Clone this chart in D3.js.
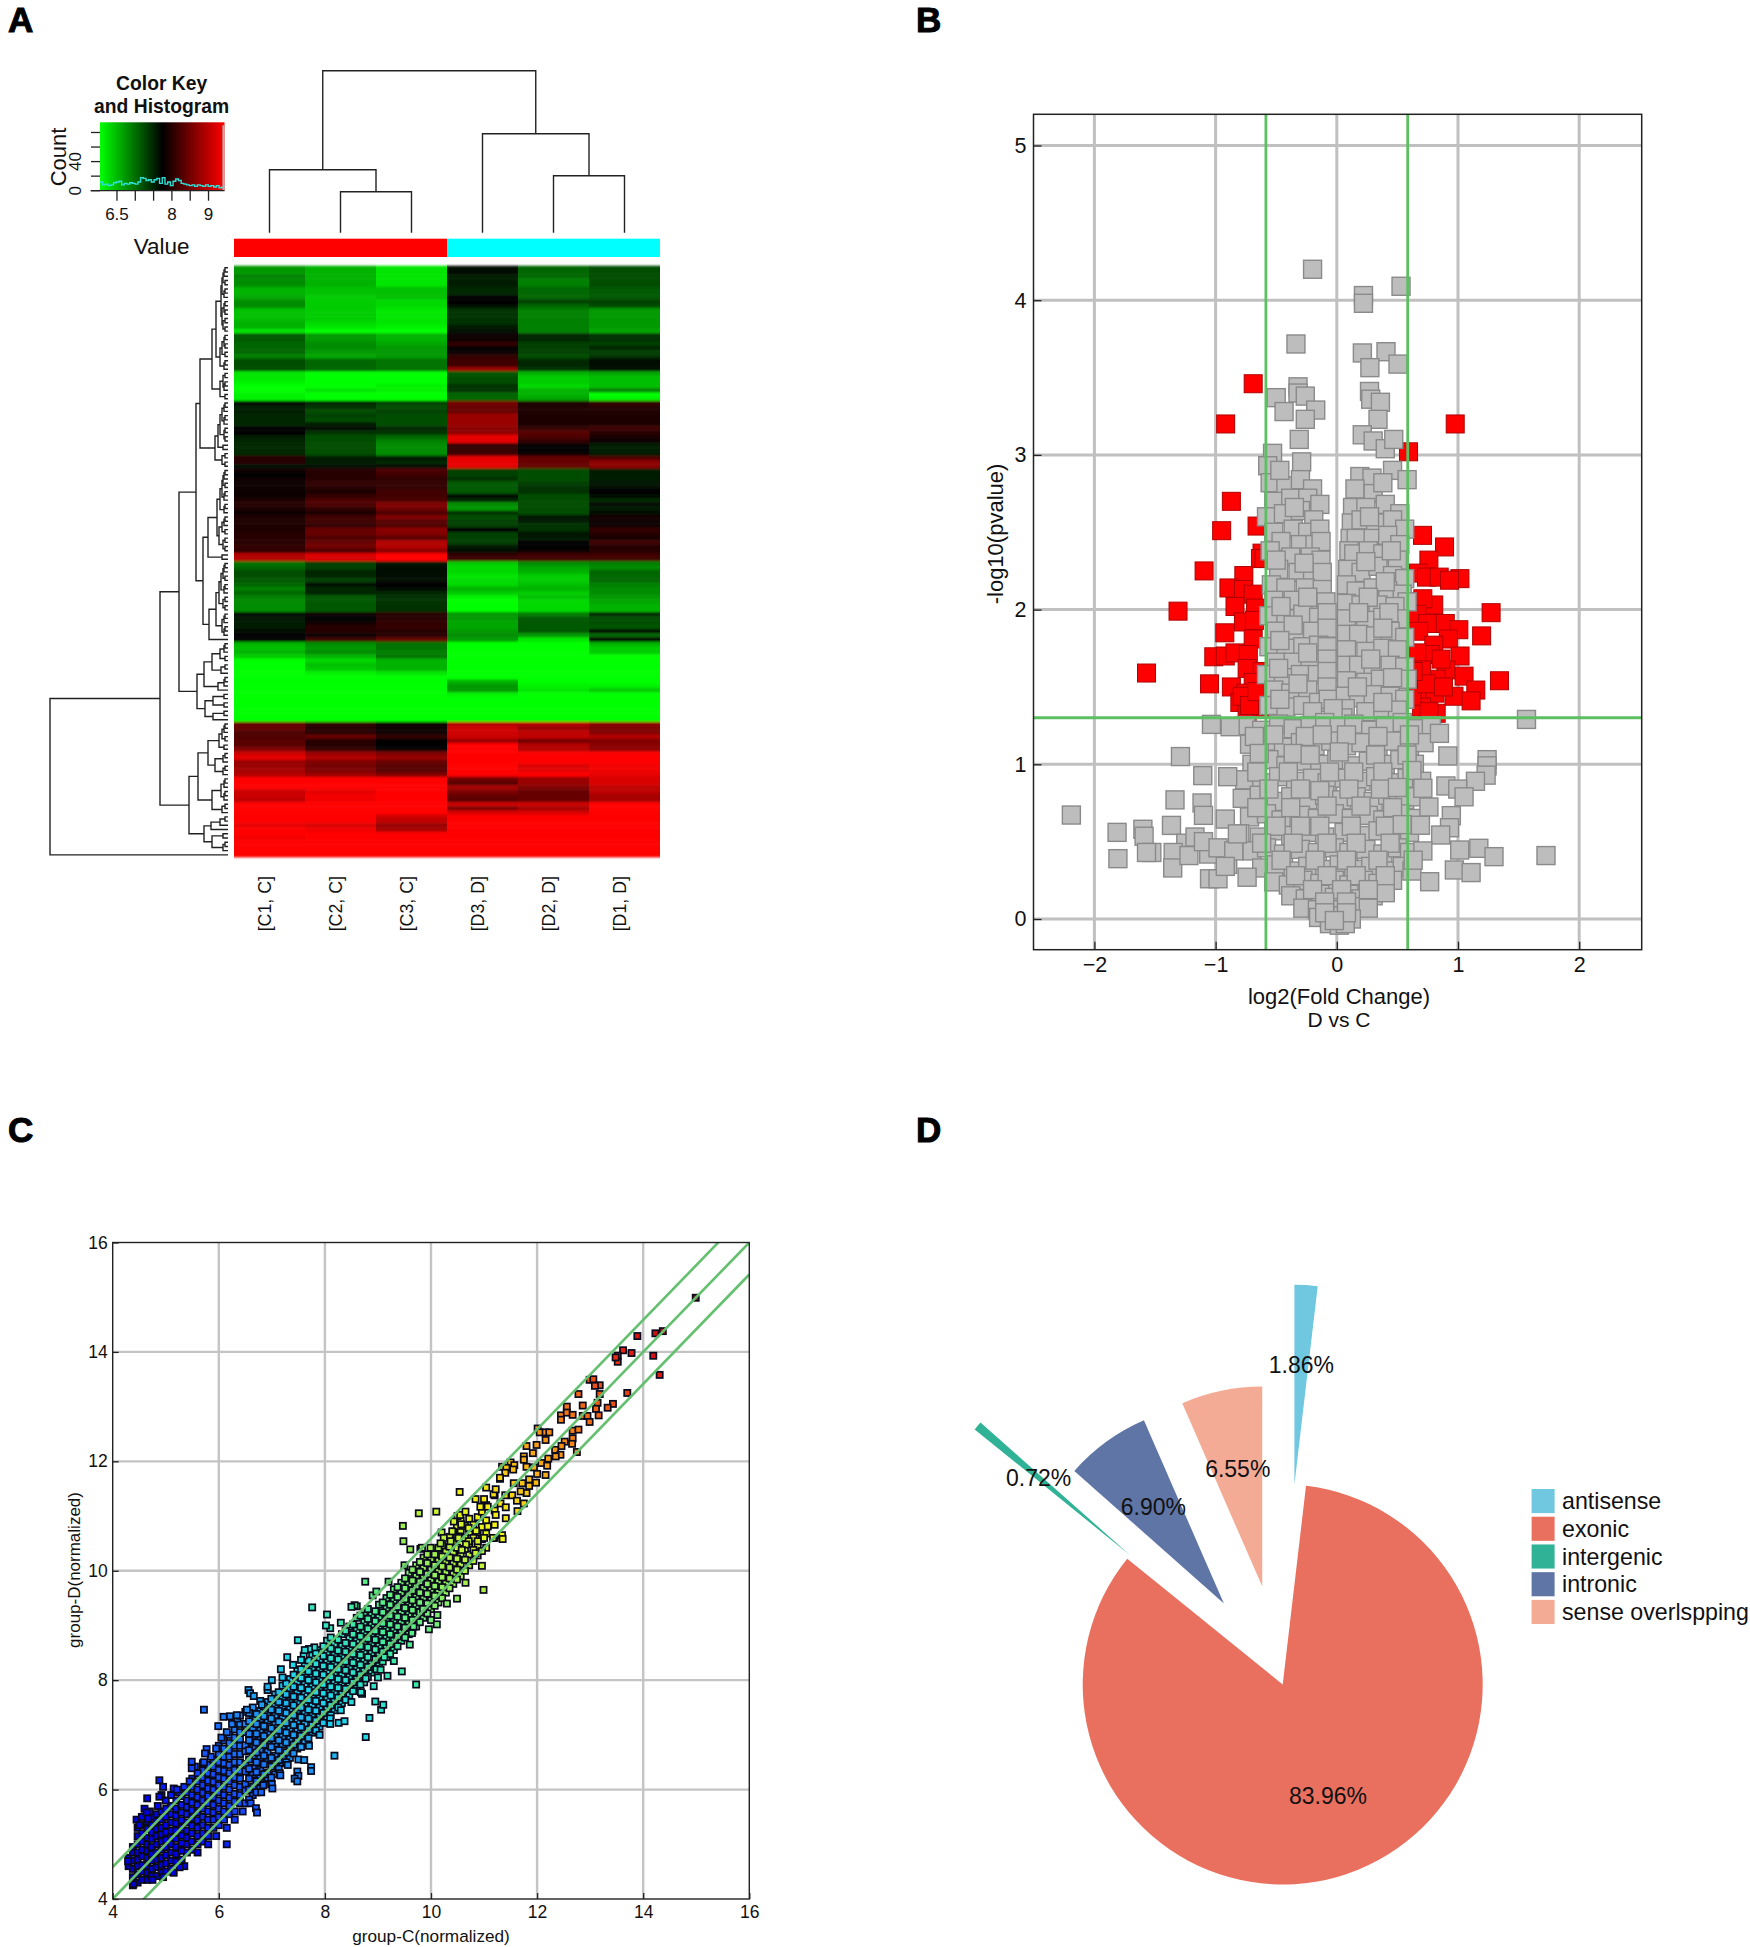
<!DOCTYPE html>
<html>
<head>
<meta charset="utf-8">
<script src="https://cdn.jsdelivr.net/npm/d3@7/dist/d3.min.js"></script>
<style>
body { margin: 0; background: #fff; }
text { font-family: "Liberation Sans", Arial, sans-serif; fill: #111; }
.domain { display: none; }
</style>
</head>
<body>
<svg id="fig" width="1750" height="1947"></svg>
<script>
// panel A
const sampleLabels = ["[C1, C]", "[C2, C]", "[C3, C]", "[D3, D]", "[D2, D]", "[D1, D]"]
const sampleGroups = ["C", "C", "C", "D", "D", "D"]
// one row per gene, columns in sampleLabels order, -10 full green .. 10 full red
const heatRows = [
[-6,-7,-9,-.5,-4,-3],[-6,-7,-9,-.5,-4,-3],[-5,-7,-9,-1,-4,-3],[-5.5,-7,-9,-1,-5,-3],[-5.5,-7,-9,-1,-5,-3],
[-7,-7.5,-7.5,-1.5,-4,-3.5],[-7,-7.5,-7.5,-1.5,-4,-3.5],[-6.5,-8,-7.5,0,-4,-3.5],[-5.5,-8,-8.5,0,-2.5,-2.5],[-5.5,-8,-8.5,-.3,-4,-3],
[-7.5,-8,-9,-2,-5,-6],[-7.5,-8,-9,-2,-5,-6],[-7.5,-8,-9,-2,-5,-6],[-7,-8.5,-9,-2,-5,-6],[-7,-9,-9.5,-1,-5,-6],[-9,-10,-10,-.3,-5,-6.5],
[-3.5,-6,-7,.3,-1.5,-2],[-3.5,-6,-7,.3,-1.5,-2],[-4,-5.5,-6.5,2,-2.5,-2.5],[-4,-5.5,-6,0,-2.5,-1.5],[-4,-6,-6,.3,-2.5,-2.5],
[-5,-6.5,-6,2,-3,-2],[-3,-4,-4.5,2.5,-1.5,-.5],[-3,-4,-4.5,2.5,-1.5,-.5],[-3,-4,-4.5,6,-2,-.5],
[-9,-10,-10,-3.5,-7,-6.5],[-9,-10,-10,-3,-8,-7.5],[-9.5,-10,-10,-3,-8,-7.5],[-10,-10,-9.5,-2,-8.5,-7.5],[-10,-9,-9.5,-2,-7,-5],[-9.5,-10,-10,-4,-7,-10],[-9.5,-10,-10,-4,-6.5,-9.5],
[-.5,-1.5,-2.5,4.5,1,2],[-1,-2,-3,4,1,1.5],[-1,-3,-2.5,4,1,1],[-1.5,-2.5,-3,6,1,1],[-1.5,-3,-3,6,1,1],[-1.5,-1,-3,6,1,1],
[0,-.5,-1.5,5.5,2,2.5],[0,-2,-2,5.5,3.5,1.5],[-1,-3,-4,9,3,1],[-1.5,-3,-5,9,2,.5],[-1.5,-3,-5.5,2,0,-1],[-1.5,-3,-5.5,2,0,-1],[-1.5,-3,-5.5,2.5,.3,-1],
[1.5,-1,-1,9,4,3],[1.5,-1,-1.5,9,4,5.5],[-.5,-.5,-.3,9,4,5.5],
[.5,1.5,3,-2.5,-3,-1],[0,1.5,2.5,-2.5,-3,-1],[.5,1.5,2,-2,-3,-1],[.5,2,2,-3.5,-2.5,-.7],[.5,1.5,2,-3.5,-2,-.3],[.5,1,2.5,-3.5,-2,0],
[.5,2,2.5,-.5,-3,-.5],[1,3,3,-1.5,-3,-1.5],[1.5,3,5,-5.5,-3,-.3],[1,2,4.5,-6,-3,-1],[.5,1,3,-2,-3,-.5],[1,2.5,5,-3,-.8,.8],
[1,2.5,3.5,-2.5,-1,.3],[1,2,3,-2.5,-2,.5],[1,4,5.5,0,-2,2],[1.5,4,5,-2.5,-.8,1.5],[1.5,3,3.5,-2.5,-1,.8],[1.5,4,7,-2.5,0,2.5],
[2,4.5,7,-1,0,1.5],[2,3,5.5,-.5,.3,1.5],[7,8.5,10,2,2.5,2.5],[7,8.5,10,2.5,2.5,2.5],
[-4.5,-2.5,-.7,-8,-5.5,-5],[-4,-2.5,-.5,-8.5,-6.5,-5.5],[-3,-1.5,-.3,-8.5,-7,-4],[-3,-1.5,-.3,-9,-8,-4],[-3.5,-2.5,-.3,-8.5,-8,-4],[-4,-.5,0,-8.5,-7.5,-5],
[-5,-1.5,-.3,-7,-7,-5.5],[-4,-1.5,-1.5,-8,-8,-5.5],[-5,-3.5,-2,-9.5,-7.5,-6],[-5.5,-3.5,-2,-10,-8.5,-6.5],[-5.5,-3.5,-2,-10,-8.5,-7],[-5.5,-3.5,-2,-10,-8.5,-7],
[-.5,.3,1.5,-6,-5,-1.5],[-.7,0,1.5,-6,-3.5,-3],[-1,.5,2,-6.5,-3.5,-3],[-1,1.5,2,-6.5,-3.5,-3.5],[-.5,1.5,1.5,-6,-3.5,-.5],[0,.5,1.5,-5.5,-6,-4],[0,2.5,4,-6,-9,0],
[-7,-5.5,-4.5,-10,-10,-7],[-7.5,-6,-4.5,-10,-10,-8],[-7,-5.5,-5,-10,-10,-8],[-8,-7,-4.5,-10,-10,-10],[-10,-8.5,-7,-10,-10,-10],[-10,-7.5,-7,-10,-10,-10],
[-10,-8,-7,-10,-10,-10],[-10,-9.5,-9,-10,-10,-10],[-10,-10,-10,-10,-10,-10],[-10,-10,-10,-7,-10,-10],[-10,-10,-10,-6,-9.5,-9.5],[-10,-10,-10,-6,-9,-8],[-10,-10,-10,-9.5,-10,-10],
[-10,-10,-10,-10,-10,-10],[-10,-10,-10,-10,-10,-10],[-10,-10,-10,-10,-10,-10],[-10,-10,-10,-10,-10,-10],[-10,-10,-10,-10,-10,-10],[-10,-10,-10,-10,-10,-10],
[4,2,.5,7,7,5.5],[4,1.5,.5,8,6,5],[3,1.5,.5,8,7.5,5],[3,4,2,8,7.5,7],[3.5,1.5,0,6,4.5,5],[3.5,1.5,0,10,7,5.5],[5,2,0,10,7,5.5],
[8,6,5,10,10,10],[9,7,6,10,10,10],[6,5,4,10,10,10],[6,4.5,3.5,10,8.5,9.5],[6.5,5,3.5,10,9,9.5],[7,6,5,10,10,9],
[10,10,10,4.5,6,8.5],[10,10,10,3.5,6,8.5],[10,10,10,6.5,5,7.5],[8,9,10,5,4,7.5],[8,9.5,10,4,4,6.5],[7.5,9.5,10,3.5,4,6.5],
[10,10,10,8,8,10],[10,10,10,5,6.5,10],[10,10,10,8.5,8.5,10],[10,10,8,10,10,10],[10,10,7.5,10,10,10],[9,8.5,6,10,10,10],[10,9.5,6.5,10,10,10],
[10,10,10,10,10,10],[9.5,10,10,10,10,10],[10,10,10,10,10,10],[10,10,10,10,10,10],[10,10,10,10,10,10],[10,10,10,10,10,10]
]
// clustering trees: [merge height, left, right], 0 is a leaf
const colTree = [162, [63, 0, [41, 0, 0]], [99, 0, [57, 0, 0]]]
const rb1 = [7, [6, [5, [4, [3,0,0], 0], [3,0,0]], [4, [3,0,0], 0]], [6, [4, [3,0,0], [3,0,0]], [5, [3,0,0], [3,0,0]]]]
const rb2 = [8, [6, [4, [3,0,0], [3,0,0]], [3,0,0]], [4, [3,0,0], 0]]
const rb3 = [8, [5, [3,0,0], [4, [3,0,0], 0]], [3,0,0]]
const rb4 = [13, [10, [8, [6, [4, [3,0,0], 0], [4, [3,0,0], 0]], [4, [3,0,0], [3,0,0]]], [5,0,0]], [6, [3,0,0], [3,0,0]]]
const rb5 = [20, [11, [8, [6, [5, [4, [3,0,0], 0], [3,0,0]], [4, [3,0,0], 0]], [4, [3,0,0], 0]], [9, [6, [4, [3,0,0], 0], [3,0,0]], [5, [3,0,0], [3,0,0]]]], [6,0,0]]
const rb6 = [19, [12, [9, [7, [5, [4, [3,0,0], 0], [3,0,0]], [4, [3,0,0], 0]], [5, [3,0,0], [3,0,0]]], [6, [4, [3,0,0], 0], [4, [3,0,0], 0]]], 0]
const rb8 = [31, [24, [16, [8, [4, [3,0,0], 0], [3,0,0]], [7, [3,0,0], 0]], [10, [4, [3,0,0], 0], 0]], [23, [15, [4,0,0], [4,0,0]], [15, [4,0,0], 0]]]
const rb9 = [20, [9, [6, [4, [3,0,0], 0], [3,0,0]], [4,0,0]], [13, [5, [3,0,0], 0], [5, [3,0,0], 0]]]
const rb11 = [16, [7, [4, [3,0,0], 0], [4, [3,0,0], 0]], [6, [3,0,0], 0]]
const rb12 = [24, [17, [8, [3,0,0], 0], 0], [16, [5,0,0], [5, [3,0,0], 0]]]
const rowTree = [178, [68,
  [49, [32, [28, [16, [12, rb1, rb2], rb3], rb4], [25, rb5, rb6]], rb8],
  [39, [30, rb9, rb11], rb12]], 0]
const keyTicks = [6.5, 7, 7.5, 8, 8.5, 9]
const keyTickLabels = [6.5, 8, 9]
const keyCountTicks = [0, 20, 40, 60, 80]
const keyCountLabels = [0, 40]
const histCounts = [12,8,9,7,8,11,12,13,8,10,9,11,10,9,12,18,17,14,15,12,15,17,10,18,9,12,7,13,16,14,10,9,8,7,8,6,8,7,6,8,6,7,5,7,4,5]
const histLastCount = 90

// panel B
const volcanoXTicks = [-2, -1, 0, 1, 2]
const volcanoYTicks = [0, 1, 2, 3, 4, 5]
const volcanoFoldCut = 0.585
const volcanoPCut = 1.301
const volcanoRed = [
[-1.57,1.59],[-1.31,1.99],[-1.095,2.25],[-.69,3.46],[-.917,3.2],[.977,3.2],[.592,3.02],[-.87,2.7],[-.95,2.51],[-.658,2.54],
[.707,2.48],[.889,2.405],[-.617,2.365],[-.63,2.33],[-.6,2.33],[.76,2.32],[.674,2.236],[.74,2.21],[.845,2.21],[1.016,2.2],[.93,2.19],
[-.767,2.22],[-.89,2.14],[-.77,2.13],[-.69,2.1],[-.84,2.02],[-.67,2.01],[-.77,1.92],[-.68,1.93],[-.924,1.85],[-.69,1.81],
[-1.015,1.695],[-.92,1.7],[-.84,1.72],[-.73,1.71],[-.74,1.62],[-.615,1.6],[-1.05,1.52],[-.87,1.5],[-.69,1.53],[-.75,1.46],[-.68,1.42],
[-.8,1.4],[-.74,1.34],[-.62,1.37],[-.78,1.44],[-.72,1.38],[-.66,1.47],
[.674,2.05],[.8,2.03],[.71,2.07],[.66,1.97],[.75,1.91],[.895,1.91],[1.007,1.87],[1.273,1.98],[1.195,1.83],[.676,1.86],[.92,1.81],
[.8,1.77],[.77,1.71],[1.017,1.7],[.66,1.72],[.9,1.61],[1.05,1.57],[.82,1.55],[.7,1.61],[1.342,1.54],[1.147,1.48],[.59,1.52],[.967,1.44],
[1.108,1.41],[.66,1.44],[.81,1.46],[.7,1.37],[.82,1.33],[.62,1.44],[.74,1.52],[.88,1.5],[.76,1.34],[.63,1.6],[.86,1.68]
]
const volcanoGray = [
// top of the plume
[-.2,4.2],[.22,4.03],[.22,3.98],[.53,4.09],[-.337,3.717],[.211,3.659],[.406,3.667],[.273,3.564],[.505,3.587],[-.32,3.44],[-.32,3.4],[-.26,3.38],
[-.5,3.37],[-.435,3.28],[-.174,3.29],[-.26,3.23],[.27,3.41],[.28,3.36],[.36,3.34],[.34,3.23],[.21,3.13],[.3,3.09],[.4,3.04],[.47,3.1],[-.31,3.1],
[-.53,3.01],[-.57,2.93],[-.29,2.955],[.19,2.86],[.46,2.9],[.58,2.84],[.29,2.85],
// left lobe
[-.55,2.82],[-.42,2.8],[-.3,2.84],[-.2,2.78],[-.52,2.7],[-.38,2.72],[-.24,2.72],[-.14,2.68],[-.58,2.6],[-.44,2.62],[-.3,2.64],[-.19,2.58],
[-.52,2.5],[-.36,2.52],[-.24,2.5],[-.14,2.52],[-.46,2.44],[-.3,2.42],[-.18,2.42],[-.13,2.44],[-.55,2.38],[-.38,2.34],[-.22,2.34],[-.13,2.32],
[-.48,2.26],[-.32,2.24],[-.2,2.22],[-.12,2.24],[-.54,2.16],[-.42,2.14],[-.26,2.14],[-.12,2.13],[-.52,2.06],[-.36,2.06],[-.2,2.03],[-.09,2.05],
[-.56,1.96],[-.42,1.94],[-.28,1.97],[-.15,1.95],[-.08,1.98],[-.5,1.86],[-.34,1.84],[-.2,1.86],[-.08,1.88],[-.56,1.76],[-.42,1.75],[-.28,1.76],
[-.15,1.77],[-.08,1.76],[-.5,1.66],[-.36,1.66],[-.22,1.66],[-.08,1.68],[-.58,1.58],[-.44,1.56],[-.3,1.58],[-.16,1.58],[-.08,1.6],[-.52,1.48],
[-.38,1.46],[-.24,1.48],[-.08,1.5],[-.56,1.38],[-.42,1.37],[-.28,1.38],[-.15,1.4],[-.07,1.42],
[-.47,2.9],[-.35,2.66],[-.5,2.32],[-.27,2.3],[-.46,2.02],[-.24,2.08],[-.36,1.9],[-.47,1.8],[-.24,1.72],[-.48,1.62],[-.32,1.52],[-.47,1.42],[-.2,1.34],
// right lobe
[.15,2.78],[.3,2.75],[.38,2.82],[.13,2.66],[.24,2.66],[.4,2.68],[.52,2.62],[.12,2.56],[.2,2.58],[.32,2.56],[.46,2.58],[.56,2.52],[.11,2.46],
[.16,2.46],[.3,2.46],[.42,2.48],[.52,2.42],[.1,2.38],[.14,2.36],[.26,2.38],[.38,2.36],[.5,2.32],[.09,2.26],[.2,2.24],[.34,2.28],[.46,2.22],
[.56,2.2],[.08,2.16],[.16,2.12],[.3,2.14],[.42,2.12],[.54,2.1],[.58,2.05],[.08,2.04],[.2,2.03],[.34,2.03],[.48,2.02],[.08,1.94],[.24,1.93],
[.38,1.95],[.52,1.94],[.08,1.84],[.18,1.84],[.32,1.83],[.44,1.86],[.56,1.82],[.08,1.74],[.24,1.73],[.38,1.75],[.5,1.74],[.08,1.64],[.18,1.64],
[.3,1.62],[.44,1.64],[.56,1.63],[.08,1.54],[.24,1.53],[.36,1.55],[.5,1.52],[.58,1.55],[.07,1.44],[.18,1.43],[.3,1.45],[.44,1.44],[.56,1.42],
[.07,1.36],[.24,1.34],[.38,1.36],[.5,1.35],
[.27,2.6],[.45,2.38],[.24,2.31],[.4,2.18],[.26,2.08],[.43,1.98],[.18,1.98],[.38,1.88],[.28,1.68],[.46,1.56],[.17,1.5],[.38,1.4],[.05,1.3],[-.03,1.36],
// lower body
[-.75,1.25],[-.62,1.22],[-.48,1.26],[-.36,1.23],[-.22,1.25],[-.1,1.27],[.02,1.24],[.14,1.26],[.28,1.22],[.4,1.25],[.54,1.27],[.66,1.23],[.78,1.25],
[-.72,1.13],[-.58,1.15],[-.44,1.11],[-.3,1.14],[-.18,1.12],[-.05,1.15],[.08,1.12],[.2,1.14],[.34,1.11],[.46,1.15],[.6,1.12],[.72,1.14],
[-.7,1.0],[-.56,1.03],[-.42,.99],[-.28,1.02],[-.14,1.0],[0,1.03],[.12,.99],[.26,1.02],[.4,1.0],[.52,1.03],[.64,1.0],
[-.76,.9],[-.62,.88],[-.48,.92],[-.34,.89],[-.2,.91],[-.08,.88],[.06,.91],[.2,.89],[.32,.92],[.46,.88],[.58,.91],[.7,.89],
[-.78,.78],[-.64,.8],[-.5,.76],[-.38,.79],[-.24,.77],[-.1,.8],[.04,.77],[.16,.79],[.3,.76],[.42,.8],[.56,.77],[.66,.79],
[-.72,.66],[-.58,.68],[-.46,.64],[-.3,.67],[-.16,.65],[-.02,.68],[.12,.65],[.26,.67],[.38,.64],[.52,.68],[.66,.65],
[-.8,.55],[-.64,.53],[-.52,.57],[-.38,.54],[-.24,.56],[-.1,.53],[.06,.56],[.2,.54],[.34,.57],[.46,.53],[.6,.56],
[-.7,.44],[-.58,.46],[-.44,.42],[-.3,.45],[-.16,.43],[-.02,.46],[.1,.43],[.24,.45],[.38,.42],[.5,.46],[.6,.43],
[-.62,.33],[-.5,.35],[-.36,.31],[-.24,.34],[-.1,.32],[.02,.35],[.14,.32],[.28,.34],[.4,.31],[.54,.34],[.62,.31],
[-.52,.24],[-.4,.22],[-.28,.25],[-.14,.23],[-.02,.25],[.1,.22],[.22,.25],[.34,.23],[.46,.25],
[-.38,.15],[-.26,.13],[-.14,.16],[-.02,.14],[.1,.16],[.2,.13],[.3,.15],[.4,.17],
[-.28,.07],[-.16,.06],[-.06,.08],[.04,.06],[.14,.08],[.26,.07],[-.15,.01],[-.06,0],[.03,.02],[.12,0],[-.06,-.03],[.02,-.04],[.07,-.03],
// second layer of the body
[-.68,1.18],[-.52,1.19],[-.26,1.18],[-.12,1.19],[.08,1.19],[.34,1.18],[.6,1.19],[-.64,1.07],[-.36,1.07],[-.22,1.06],[.02,1.08],[.32,1.06],[.58,1.06],
[-.66,.95],[-.4,.95],[-.06,.95],[.14,.95],[.38,.95],[.62,.96],[-.56,.84],[-.3,.84],[-.14,.83],[.1,.84],[.36,.84],[.5,.85],[-.66,.72],[-.38,.72],[-.08,.73],
[.2,.73],[.46,.72],[-.5,.6],[-.3,.6],[-.14,.6],[.12,.6],[.4,.6],[.54,.61],[-.62,.49],[-.36,.49],[-.08,.49],[.16,.49],[.44,.49],[-.46,.38],[-.18,.38],
[.08,.38],[.34,.38],[-.34,.28],[-.08,.28],[.16,.28],[.4,.28],[-.2,.19],[.04,.19],[.26,.19],[-.1,.11],[.08,.11],[-.1,.04],[.08,.04],[-.02,-.01],
// scattered outliers
[-1.034,1.258],[-.88,1.243],[1.565,1.29],[.847,1.2],[-1.29,1.05],[-1.106,.927],[-.9,.92],[.916,1.054],[1.24,1.03],[1.24,.99],[1.232,.93],[1.144,.89],
[.9,.86],[.998,.84],[1.05,.79],[.71,.845],[-1.335,.77],[-1.112,.75],[-1.1,.67],[-2.19,.672],[-1.813,.56],[-1.806,.39],[-1.6,.58],[-1.59,.535],[-1.526,.43],
[-1.57,.43],[-1.364,.605],[-1.246,.49],[-1.17,.53],[-1.35,.43],[-1.354,.33],[-1.22,.41],[-.92,.646],[-1.057,.42],[-.9,.353],[-1.05,.26],[-.98,.26],[-.74,.27],
[.76,.724],[.945,.668],[.93,.59],[.857,.543],[.69,.606],[1.014,.446],[1.172,.457],[1.297,.403],[1.726,.41],[.97,.317],[1.108,.3],[.766,.241],[.71,.44],[.63,.38],
[-1.1,.5],[-.98,.46],[-.85,.44],[-.82,.55],[-.92,.34]
]

// panel C
const scatterTicks = [4, 6, 8, 10, 12, 14, 16]
const scatterFoldLines = [0.585, 0, -0.585]
const scatterColorStops = [4.4, 5.2, 6, 7, 7.8, 9, 10.2, 11, 12, 13, 14, 15]
const scatterColors = ["#0000c8", "#0000f0", "#1448ff", "#1c90f4", "#1ed8ec", "#44ee98", "#a4f04c", "#f4f414", "#fba814", "#f06414", "#e01414", "#801010"]
// group-C value, then the group-D values read at that group-C value
const scatterColumns = [
[4.3,4.6,4.75],[4.38,4.25,4.4,4.55,4.7,4.85,4.95],[4.47,4.3,4.45,4.6,4.72,4.85,5,5.15,5.3],[4.56,4.35,4.5,4.62,4.78,4.9,5.05,5.2,5.35],
[4.65,4.35,4.48,4.6,4.75,4.88,5,5.12,5.28,5.42],[4.74,4.42,4.55,4.7,4.82,4.95,5.1,5.22,5.35,5.5],[4.83,4.42,4.58,4.72,4.85,5,5.15,5.28,5.42,5.55],
[4.92,4.48,4.62,4.75,4.9,5.05,5.18,5.3,5.45,5.6],[5.01,4.5,4.65,4.8,4.95,5.08,5.22,5.35,5.5,5.65],[5.1,4.55,4.7,4.85,5,5.12,5.25,5.4,5.55,5.7],
[5.2,4.68,4.82,4.95,5.1,5.25,5.38,5.52,5.65,5.8],[5.3,4.72,4.88,5.02,5.16,5.3,5.44,5.58,5.72,5.88],[5.4,4.85,5,5.12,5.25,5.4,5.55,5.68,5.8,5.95],
[5.5,4.9,5.05,5.2,5.34,5.48,5.62,5.76,5.9,6.05,6.2],[5.6,5,5.15,5.3,5.44,5.58,5.72,5.86,6,6.15],[5.7,5.05,5.2,5.35,5.5,5.65,5.8,5.94,6.08,6.22,6.35],
[5.8,5.15,5.3,5.45,5.6,5.75,5.88,6.02,6.16,6.3,6.45],[5.9,5.3,5.45,5.58,5.72,5.86,6,6.14,6.28,6.42,6.55],[6,5.35,5.5,5.65,5.8,5.95,6.08,6.22,6.36,6.5,6.65,6.8],
[6.1,5.45,5.6,5.75,5.9,6.05,6.2,6.34,6.48,6.6,6.75,6.9],[6.2,5.55,5.7,5.85,6,6.15,6.3,6.45,6.6,6.72,6.85,7],[6.3,5.6,5.78,5.92,6.08,6.22,6.36,6.5,6.65,6.8,6.95,7.1],
[6.4,5.75,5.9,6.05,6.2,6.34,6.5,6.65,6.8,6.92,7.05,7.2],
[6.5,5.75,5.98,6.1,6.33,6.47,6.7,6.81,7.05,7.2,7.42],[6.64,5.9,6.05,6.28,6.4,6.62,6.76,6.98,7.1,7.33,7.5],[6.78,6.02,6.24,6.36,6.58,6.73,6.95,7.08,7.29,7.44,7.62],
[6.92,6.2,6.31,6.55,6.69,6.9,7.02,7.26,7.38,7.6,7.82],[7.06,6.28,6.5,6.62,6.84,7,7.19,7.36,7.52,7.74],[7.2,6.48,6.6,6.82,6.97,7.16,7.3,7.53,7.66,7.9],
[7.34,6.58,6.8,6.93,7.12,7.28,7.48,7.62,7.84,8.02],[7.48,6.75,6.9,7.1,7.24,7.45,7.6,7.8,7.95,8.18],[7.62,6.86,7.08,7.2,7.4,7.58,7.74,7.92,8.12,8.28],
[7.76,7.04,7.18,7.38,7.55,7.7,7.88,8.06,8.2,8.45],[7.9,7.15,7.35,7.5,7.68,7.86,8.02,8.18,8.38,8.55],[8.04,7.3,7.48,7.66,7.82,7.98,8.16,8.34,8.5,8.72],
[8.18,7.45,7.62,7.78,7.96,8.14,8.3,8.46,8.66],[8.32,7.58,7.75,7.94,8.1,8.26,8.44,8.62,8.84],[8.46,7.72,7.92,8.06,8.24,8.42,8.6,8.76,8.98],
[8.6,7.88,8.02,8.2,8.4,8.54,8.72,8.92,9.14],[8.74,7.96,8.18,8.36,8.52,8.7,8.88,9.06,9.24],[8.88,8.14,8.3,8.5,8.68,8.84,9.02,9.2],
[9.02,8.26,8.46,8.62,8.82,8.98,9.16,9.38],[9.16,8.42,8.6,8.78,8.94,9.12,9.32,9.5],[9.3,8.55,8.72,8.92,9.1,9.26,9.46,9.66],
[9.44,8.72,8.88,9.06,9.24,9.42,9.6,9.78],[9.58,8.84,9.04,9.2,9.4,9.56,9.76,9.96],[9.72,8.98,9.16,9.36,9.52,9.72,9.9,10.1],
[9.86,9.14,9.32,9.5,9.68,9.88,10.06,10.24],[10,9.3,9.46,9.66,9.84,10.02,10.22],[10.14,9.42,9.62,9.8,10,10.18,10.4],[10.28,9.6,9.78,9.98,10.16,10.36],
[10.42,9.76,9.94,10.14,10.34,10.52,10.72],[10.56,9.9,10.12,10.3,10.5,10.74,10.92],[10.72,10.1,10.3,10.5,10.7,10.95],[10.88,10.28,10.46,10.7,10.98],
[11.04,10.42,10.68,10.92,11.2],[11.2,10.6,10.84,11.1,11.38],
[6.57,5.82,6,6.2,6.38,6.55,6.72,6.9,7.02,7.25,7.4],[6.71,5.95,6.15,6.32,6.5,6.68,6.86,7.02,7.2,7.38],[6.85,6.1,6.28,6.46,6.62,6.82,6.98,7.16,7.34,7.52],
[6.99,6.22,6.42,6.58,6.78,6.94,7.12,7.3,7.46,7.66],[7.13,6.38,6.54,6.72,6.9,7.08,7.24,7.44,7.6,7.78],[7.27,6.5,6.68,6.86,7.04,7.22,7.4,7.58,7.74,7.94],
[7.41,6.66,6.82,7,7.18,7.36,7.54,7.7,7.88,8.1],[7.55,6.78,6.98,7.14,7.32,7.5,7.68,7.86,8.04,8.2],[7.69,6.94,7.1,7.3,7.46,7.64,7.82,8,8.16,8.36],
[7.83,7.08,7.26,7.44,7.62,7.78,7.96,8.12,8.3,8.5],[7.97,7.22,7.4,7.58,7.76,7.92,8.1,8.26,8.44,8.62],[8.11,7.36,7.54,7.72,7.88,8.06,8.24,8.4,8.58,8.78],
[8.25,7.5,7.68,7.86,8.02,8.2,8.38,8.54,8.74],[8.39,7.64,7.84,8,8.18,8.34,8.52,8.68,8.9],[8.53,7.8,7.96,8.14,8.32,8.48,8.66,8.84,9.02],
[8.67,7.92,8.1,8.28,8.46,8.62,8.8,8.98,9.18],[8.81,8.06,8.24,8.42,8.6,8.76,8.94,9.12,9.3],[8.95,8.2,8.38,8.56,8.74,8.9,9.08,9.26],
[9.09,8.34,8.52,8.7,8.88,9.04,9.24,9.42],[9.23,8.48,8.66,8.84,9.02,9.18,9.38,9.56],[9.37,8.62,8.8,8.98,9.16,9.34,9.52,9.7],
[9.51,8.78,8.96,9.14,9.32,9.48,9.68,9.86],[9.65,8.9,9.1,9.28,9.46,9.64,9.82,10.02],[9.79,9.06,9.24,9.42,9.6,9.8,9.98,10.16],
[9.93,9.22,9.4,9.58,9.76,9.94,10.14,10.3],[10.07,9.36,9.54,9.72,9.92,10.1,10.3],[10.21,9.5,9.7,9.88,10.08,10.26,10.46],
[10.35,9.68,9.86,10.06,10.24,10.44,10.62],[10.49,9.84,10.02,10.22,10.42,10.62,10.82],[10.64,10,10.2,10.4,10.6,10.82],[10.8,10.18,10.38,10.6,10.84],[10.96,10.36,10.58,10.8,11.08]
]
const scatterEdge = [
[4.45,5.45],[4.55,5.5],[4.7,5.6],[4.6,5.65],[4.85,5.7],[5,5.8],[5.1,5.9],[5.25,5.95],[5.35,6.05],[5.15,6.02],[5.45,6.15],[5.6,6.3],[5.7,6.48],[5.55,6.42],
[5.85,6.6],[5.95,6.75],[6.05,6.95],[6.15,7.05],[6.25,7.2],[6.35,7.3],[6.4,7.35],[4.75,4.35],[4.95,4.4],[5.15,4.48],[5.35,4.6],[5.6,4.85],[5.8,5],[5.95,5.15],
[6.15,5.3],[6.3,5.45],[6.45,5.6],[6.6,5.75],[6.8,5.95],[7,6.1],[7.15,6.3],[7.3,6.45],[7.5,6.55],[7.7,6.8],[7.9,7],[8.1,7.3],[8.3,7.45],[8.5,7.6],[8.7,7.75],
[9,8.05],[9.3,8.35],[9.6,8.65],[10,9.1],[10.3,9.4],[7,8],[7.2,8.05],[7.4,8.28],[7.6,8.45],[7.8,8.6],[8.1,8.95],[8.3,9.05],[8.6,9.35],[8.9,9.55],[9.2,9.8],
[9.5,10.1],[9.8,10.4],[10.2,10.7],[10.5,11]
]
const scatterSpread = [
[14.99,14.99],[14.37,14.38],[14.23,14.34],[13.89,14.29],[13.78,13.98],[13.62,14.03],[13.52,13.93],[13.52,13.82],[13.48,13.9],[14.19,13.93],[14.31,13.58],[13.7,13.25],
[12.99,13.49],[13.06,13.5],[13.18,13.39],[13.09,13.38],[13.18,13.23],[12.78,13.23],[13.14,13.07],[12.86,13.02],[12.56,13],[13.11,12.96],[13.43,13.05],[13.33,12.98],
[12.45,12.84],[12.45,12.76],[12.56,12.89],[12.67,12.85],[12.86,12.83],[12.95,12.83],[12.99,12.72],[13.16,12.84],[12.01,12.6],[12.05,12.53],[12.16,12.53],[12.23,12.53],
[12.16,12.39],[12.67,12.56],[12.78,12.58],[12.67,12.42],[12.52,12.36],[12.66,12.32],[12.46,12.28],[12.75,12.17],[12.34,12.21],[12.44,12.12],[12.35,12.09],[11.8,12.28],
[11.99,12.3],[11.92,12.15],[11.75,12.09],[11.75,12.03],[11.5,11.98],[11.57,11.93],[11.34,11.9],[11.42,11.88],[11.55,11.85],[11.4,11.79],[11.3,11.68],[11.3,11.7],
[12.21,12.05],[12.08,11.97],[12.19,11.92],[11.8,11.9],[11.94,11.89],[12,11.77],[12.16,11.75],[11.85,11.67],[11.72,11.6],[11.85,11.55],[11.98,11.61],[11.8,11.42],
[11.69,11.45],[11.56,11.6],[11.53,11.38],[11.4,11.38],[11.75,11.23],[11.62,11.28],[11.63,11.09],[10.54,11.44],[11.04,11.52],[9.77,11.05],[10.1,11.08],[9.47,10.82],
[9.48,10.54],[9.61,10.39],[10.84,11.31],[11,11.31],[11.18,11.4],[11.22,11.49],[10.93,11.17],[11.07,11.17],[11.31,11.23],[11.41,11.16],[11.22,11.02],[11.41,10.96],
[11.07,10.81],[11.34,10.65],[11.35,10.58],[11.17,10.6],[11,10.6],[10.88,10.54],[10.96,10.09],[10.65,9.78],[10.99,9.65],[10.55,11.02],[10.65,11.08],[10.71,10.78],
[10.85,10.73],[10.43,10.9],[10.57,10.85],[10.4,10.72],[10.24,10.6],[10.71,10.54],[10.52,10.6],[10.37,10.54],[10.84,10.32],[10.66,10.48],[10.58,10.38],[9.99,10.42],
[10.14,10.42],[9.83,10.42],[10.18,10.5],[5.72,7.46],[7.76,9.33],[8.04,9.2],[8.02,9],[7.49,8.73],[7.29,8.42],[7.7,8.57],[7.62,8.55],[7.55,8.37],[7.17,8.2],
[6.56,7.82],[6.59,7.76],[6.66,7.71],[6.92,7.88],[6.81,7.55],[6.53,7.46],[6.34,7.36],[6.21,7.34],[6.09,7.33],[5.99,7.16],[5.77,6.74],[5.74,6.66],[5.72,6.5],[5.49,6.51],
[5.49,6.39],[4.88,6.17],[4.95,6.05],[5.21,6],[4.92,5.9],[4.88,5.87],[4.65,5.84],[4.64,5.58],[4.67,5.47],[4.5,5.35],[4.29,4.69],[4.39,4.27],[6.15,5],[5.26,4.58],[6.7,5.66],
[6.72,5.58],[7.01,6.02],[6.84,6.08],[7.16,6.26],[7.48,6.33],[7.5,6.25],[7.43,6.2],[7.48,6.15],[7.74,6.41],[7.74,6.34],[7.61,6.54],[8.18,6.62],[8.77,6.96],[8.84,7.31],
[8.1,7.2],[8.26,7.22],[8.37,7.25],[9.06,7.46],[9.1,7.55],[8.95,7.61],[9.72,7.92],[9.45,8.16],[9.18,8.08],[8.92,7.89],[8.68,7.78],[8.77,8.03],[8.97,8.2],[9.05,8.19],
[9.12,8.42],[9.64,8.86],[9.67,8.98],[9.96,8.93],[10.11,9.02],[10.12,9.19],[10.49,9.49],[9.85,9.3],[8.56,9.37],[8.5,9.34],[8.76,9.8],[8.97,9.62]
]
const scatterPoints = scatterColumns.flatMap(col => col.slice(1).map(d => [col[0], d])).concat(scatterEdge, scatterSpread)

// panel D
const pieNames = ["antisense", "exonic", "intergenic", "intronic", "sense overlspping"]
const pieValues = [1.86, 83.96, 0.72, 6.90, 6.55]
const pieExplode = [1, 0, 1, 0.5, 0.5]
const pieColors = ["#6fc8e0", "#e9705e", "#2fb296", "#5f75a5", "#f4ab95"]

const svg = d3.select("#fig")
const defs = svg.append("defs")

function panelLetter(label, x, y) {
    svg.append("text").attr("x", x).attr("y", y)
        .style("font-size", "35px").style("font-weight", "bold").style("fill", "#000")
        .attr("stroke", "#000").attr("stroke-width", 1)
        .text(label)
}

function label(parent, txt, x, y, size, opts = {}) {
    const t = parent.append("text")
        .attr("text-anchor", opts.anchor || "middle")
        .attr("dominant-baseline", "central")
        .attr("transform", `translate(${x},${y})` + (opts.rotate ? ` rotate(${opts.rotate})` : ""))
        .style("font-size", size + "px")
        .text(txt)
    if (opts.bold) t.style("font-weight", "bold")
    return t
}

function layoutTree(tree, leafPos) {
    const root = d3.hierarchy(tree, d => d === 0 ? null : d.slice(1))
    let k = 0
    root.eachAfter(n => {
        if (n.children) {
            n.h = n.data[0]
            n.pos = d3.mean(n.children, c => c.pos)
        } else {
            n.h = 0
            n.pos = leafPos(k++)
        }
    })
    return root.descendants().filter(n => n.children)
}

function drawPanelA() {
    panelLetter("A", 8, 32)
    const g = svg.append("g")
    const x = d3.scaleBand().domain(d3.range(sampleLabels.length)).range([234, 660])
    const y = d3.scaleBand().domain(d3.range(heatRows.length)).range([265.7, 857])
    const heatColor = d3.scaleLinear().domain([-10, 0, 10]).range(["#00ff00", "#000000", "#ff0000"])
    const groupColor = d3.scaleOrdinal().domain(["C", "D"]).range(["#ff0000", "#00ffff"])

    defs.append("filter").attr("id", "heat-soft")
        .append("feGaussianBlur").attr("stdDeviation", "0 0.9")

    g.append("g").attr("filter", "url(#heat-soft)").selectAll("g").data(heatRows).join("g")
        .attr("transform", (d, i) => `translate(0,${y(i)})`)
        .selectAll("rect").data(d => d).join("rect")
        .attr("x", (d, i) => x(i)).attr("width", x.bandwidth())
        .attr("height", y.bandwidth() + 0.4)
        .attr("fill", d => heatColor(d))

    g.append("g").selectAll("rect").data(sampleGroups).join("rect")
        .attr("x", (d, i) => x(i)).attr("y", 238.7)
        .attr("width", x.bandwidth()).attr("height", 18.3)
        .attr("fill", d => groupColor(d))

    sampleLabels.forEach((s, i) => {
        label(g, s, x(i) + x.bandwidth() / 2 - 4.5, 876, 17.8, { anchor: "end", rotate: -90 })
    })

    // dendrograms
    const colH = d3.scaleLinear().domain([0, 162]).range([232.7, 70.7])
    g.append("g").selectAll("path").data(layoutTree(colTree, i => x(i) + x.bandwidth() / 2)).join("path")
        .attr("fill", "none").attr("stroke", "#222").attr("stroke-width", 1.4)
        .attr("d", n => {
            const [a, b] = n.children
            return `M${a.pos},${colH(a.h)}V${colH(n.h)}H${b.pos}V${colH(b.h)}`
        })
    const rowH = d3.scaleLinear().domain([0, 178]).range([228, 50])
    g.append("g").selectAll("path").data(layoutTree(rowTree, i => y(i) + y.bandwidth() / 2)).join("path")
        .attr("fill", "none").attr("stroke", "#222").attr("stroke-width", 1.4)
        .attr("d", n => {
            const [a, b] = n.children
            return `M${rowH(a.h)},${a.pos}H${rowH(n.h)}V${b.pos}H${rowH(b.h)}`
        })

    // colour key with histogram
    const keyX = d3.scaleLinear().domain([6.05, 9.45]).range([100, 224.5])
    const keyY = d3.scaleLinear().domain([0, 94]).range([190.7, 122.3])
    const grad = defs.append("linearGradient").attr("id", "key-grad")
    grad.append("stop").attr("offset", 0).attr("stop-color", "#00ff00")
    grad.append("stop").attr("offset", 0.5).attr("stop-color", "#000000")
    grad.append("stop").attr("offset", 1).attr("stop-color", "#ff0000")
    g.append("rect").attr("x", keyX.range()[0]).attr("y", keyY.range()[1])
        .attr("width", 124.5).attr("height", 68.4).attr("fill", "url(#key-grad)")

    const binW = (9.45 - 6.05) / histCounts.length
    const hist = histCounts.map((c, i) => [6.05 + i * binW, c])
    g.append("path").datum(hist.concat([[9.45, histCounts[histCounts.length - 1]]]))
        .attr("fill", "none").attr("stroke", "#2fe0d8").attr("stroke-width", 1.4)
        .attr("d", d3.line().curve(d3.curveStepAfter).x(d => keyX(d[0])).y(d => keyY(d[1])))
    g.append("path").datum([[9.42, 0], [9.42, histLastCount]])
        .attr("fill", "none").attr("stroke", "#b0b0b0").attr("stroke-width", 2)
        .attr("d", d3.line().x(d => keyX(d[0])).y(d => keyY(d[1])))

    const kx = g.append("g").attr("transform", "translate(0,190.7)")
        .call(d3.axisBottom(keyX).tickValues(keyTicks).tickSize(10).tickPadding(7)
            .tickFormat(d => keyTickLabels.includes(d) ? d : ""))
    kx.selectAll("line").attr("stroke", "#222").attr("stroke-width", 1.3)
    kx.selectAll("text").style("font-size", "17px").style("fill", "#111")
    const ky = g.append("g").attr("transform", "translate(100,0)")
        .call(d3.axisLeft(keyY).tickValues(keyCountTicks).tickSize(9)
            .tickFormat(d => keyCountLabels.includes(d) ? d : ""))
    ky.selectAll("line").attr("stroke", "#222").attr("stroke-width", 1.3)
    ky.selectAll("text").style("font-size", "17px").style("fill", "#111")
        .attr("text-anchor", "middle").attr("dy", 0).attr("x", 0)
        .attr("transform", d => `translate(-19,${keyY(d)}) rotate(-90)`)
        .attr("y", 0)
    ky.selectAll(".tick").attr("transform", "translate(0,0)")
    ky.selectAll("line").attr("y1", d => keyY(d)).attr("y2", d => keyY(d))
    g.append("path").attr("d", "M90.6,190.7H224.5").attr("stroke", "#222").attr("stroke-width", 1.3)

    label(g, "Color Key", 161.6, 83, 19.3, { bold: true })
    label(g, "and Histogram", 161.6, 106, 19.3, { bold: true })
    label(g, "Count", 58, 157, 22, { rotate: -90 })
    label(g, "Value", 161.6, 246, 22.5)
}

function styleFrameAxis(sel, fontSize) {
    sel.selectAll("line").attr("stroke", "#222").attr("stroke-width", 1.3)
    sel.selectAll("text").style("font-size", fontSize + "px").style("fill", "#111")
}

function drawPanelB() {
    panelLetter("B", 916, 32)
    const g = svg.append("g")
    const x = d3.scaleLinear().domain([-2.5, 2.5]).range([1033.8, 1639.8])
    const y = d3.scaleLinear().domain([0, 5]).range([919, 145.5])
    const left = 1033.5, right = 1641.7, top = 114.3, bottom = 949.7

    const grid = g.append("g").attr("stroke", "#c0c0c0").attr("stroke-width", 3)
    grid.selectAll("line.v").data(volcanoXTicks).join("line").attr("class", "v")
        .attr("x1", d => x(d)).attr("x2", d => x(d)).attr("y1", top).attr("y2", bottom)
    grid.selectAll("line.h").data(volcanoYTicks).join("line").attr("class", "h")
        .attr("y1", d => y(d)).attr("y2", d => y(d)).attr("x1", left).attr("x2", right)

    const sq = 18
    g.append("g").selectAll("rect").data(volcanoRed).join("rect")
        .attr("x", d => x(d[0]) - sq / 2).attr("y", d => y(d[1]) - sq / 2)
        .attr("width", sq).attr("height", sq)
        .attr("fill", "#ff0000").attr("stroke", "#b00000").attr("stroke-width", 1)
    g.append("g").selectAll("rect").data(volcanoGray).join("rect")
        .attr("x", d => x(d[0]) - sq / 2).attr("y", d => y(d[1]) - sq / 2)
        .attr("width", sq).attr("height", sq)
        .attr("fill", "#bdbdbd").attr("stroke", "#8a8a8a").attr("stroke-width", 1.4)

    const cuts = g.append("g").attr("stroke", "#5cbf62").attr("stroke-width", 2.8)
    cuts.selectAll("line.v").data([-volcanoFoldCut, volcanoFoldCut]).join("line").attr("class", "v")
        .attr("x1", d => x(d)).attr("x2", d => x(d)).attr("y1", top).attr("y2", bottom)
    cuts.append("line").attr("x1", left).attr("x2", right).attr("y1", y(volcanoPCut)).attr("y2", y(volcanoPCut))

    g.append("rect").attr("x", left).attr("y", top).attr("width", right - left).attr("height", bottom - top)
        .attr("fill", "none").attr("stroke", "#222").attr("stroke-width", 1.5)

    const ax = g.append("g").attr("transform", `translate(0,${bottom})`)
        .call(d3.axisBottom(x).tickValues(volcanoXTicks).tickSize(-8).tickPadding(7).tickFormat(d3.format("d")))
    styleFrameAxis(ax, 21.5)
    const ay = g.append("g").attr("transform", `translate(${left},0)`)
        .call(d3.axisLeft(y).tickValues(volcanoYTicks).tickSize(-8).tickPadding(7).tickFormat(d3.format("d")))
    styleFrameAxis(ay, 21.5)

    label(g, "log2(Fold Change)", 1339, 996, 22)
    label(g, "D vs C", 1339, 1019, 21)
    label(g, "-log10(pvalue)", 995, 534, 22, { rotate: -90 })
}

function drawPanelC() {
    panelLetter("C", 8, 1142)
    const g = svg.append("g")
    const x = d3.scaleLinear().domain([4, 16]).range([112.7, 749.3])
    const y = d3.scaleLinear().domain([4, 16]).range([1899, 1242.5])

    defs.append("clipPath").attr("id", "scatter-clip").append("rect")
        .attr("x", x(4)).attr("y", y(16)).attr("width", x(16) - x(4)).attr("height", y(4) - y(16))

    const grid = g.append("g").attr("stroke", "#c4c4c4").attr("stroke-width", 2.4)
    grid.selectAll("line.v").data(scatterTicks.slice(1, -1)).join("line").attr("class", "v")
        .attr("x1", d => x(d)).attr("x2", d => x(d)).attr("y1", y(4)).attr("y2", y(16))
    grid.selectAll("line.h").data(scatterTicks.slice(1, -1)).join("line").attr("class", "h")
        .attr("y1", d => y(d)).attr("y2", d => y(d)).attr("x1", x(4)).attr("x2", x(16))

    const color = d3.scaleLinear().domain(scatterColorStops).range(scatterColors).clamp(true)
    const sq = 6.2
    g.append("g").attr("clip-path", "url(#scatter-clip)").selectAll("rect").data(scatterPoints).join("rect")
        .attr("x", d => x(d[0]) - sq / 2).attr("y", d => y(d[1]) - sq / 2)
        .attr("width", sq).attr("height", sq)
        .attr("fill", d => color((d[0] + d[1]) / 2))
        .attr("stroke", "#0a0a1c").attr("stroke-width", 1.7)

    g.append("g").attr("clip-path", "url(#scatter-clip)")
        .attr("stroke", "#64c06e").attr("stroke-width", 2.6)
        .selectAll("line").data(scatterFoldLines).join("line")
        .attr("x1", x(4)).attr("x2", x(16))
        .attr("y1", d => y(4 + d)).attr("y2", d => y(16 + d))

    g.append("rect").attr("x", x(4)).attr("y", y(16)).attr("width", x(16) - x(4)).attr("height", y(4) - y(16))
        .attr("fill", "none").attr("stroke", "#222").attr("stroke-width", 1.4)

    const ax = g.append("g").attr("transform", `translate(0,${y(4)})`)
        .call(d3.axisBottom(x).tickValues(scatterTicks).tickSize(-6).tickPadding(7).tickFormat(d3.format("d")))
    styleFrameAxis(ax, 17.5)
    const ay = g.append("g").attr("transform", `translate(${x(4)},0)`)
        .call(d3.axisLeft(y).tickValues(scatterTicks).tickSize(-6).tickPadding(5).tickFormat(d3.format("d")))
    styleFrameAxis(ay, 17.5)

    label(g, "group-C(normalized)", 431, 1936, 17.2)
    label(g, "group-D(normalized)", 74.6, 1570, 17, { rotate: -90 })
}

function drawPanelD() {
    panelLetter("D", 916, 1142)
    const g = svg.append("g").attr("transform", "translate(1282.7,1684.5)")
    const r = 200
    const arcs = d3.pie().sort(null)(pieValues)
    const arc = d3.arc().innerRadius(0).outerRadius(r)
    const labelArc = d3.arc().innerRadius(0).outerRadius(r * 1.2)
    const shift = (d, i) => {
        const mid = (d.startAngle + d.endAngle) / 2
        return [Math.sin(mid) * r * pieExplode[i], -Math.cos(mid) * r * pieExplode[i]]
    }
    g.selectAll("path").data(arcs).join("path")
        .attr("d", arc)
        .attr("fill", (d, i) => pieColors[i])
        .attr("transform", (d, i) => `translate(${shift(d, i)})`)
    arcs.forEach((d, i) => {
        const s = shift(d, i), c = labelArc.centroid(d)
        label(g, d3.format(".2f")(pieValues[i]) + "%", s[0] + c[0], s[1] + c[1], 23)
    })

    const legY = d3.scaleBand().domain(pieNames).range([1489, 1624]).paddingInner(0.13)
    const leg = svg.append("g")
    leg.selectAll("rect").data(pieNames).join("rect")
        .attr("x", 1531.6).attr("y", d => legY(d)).attr("width", 23).attr("height", legY.bandwidth())
        .attr("fill", (d, i) => pieColors[i])
    pieNames.forEach(n => label(leg, n, 1562, legY(n) + legY.bandwidth() / 2, 23.2, { anchor: "start" }))
}

drawPanelA()
drawPanelB()
drawPanelC()
drawPanelD()
</script>
</body>
</html>
